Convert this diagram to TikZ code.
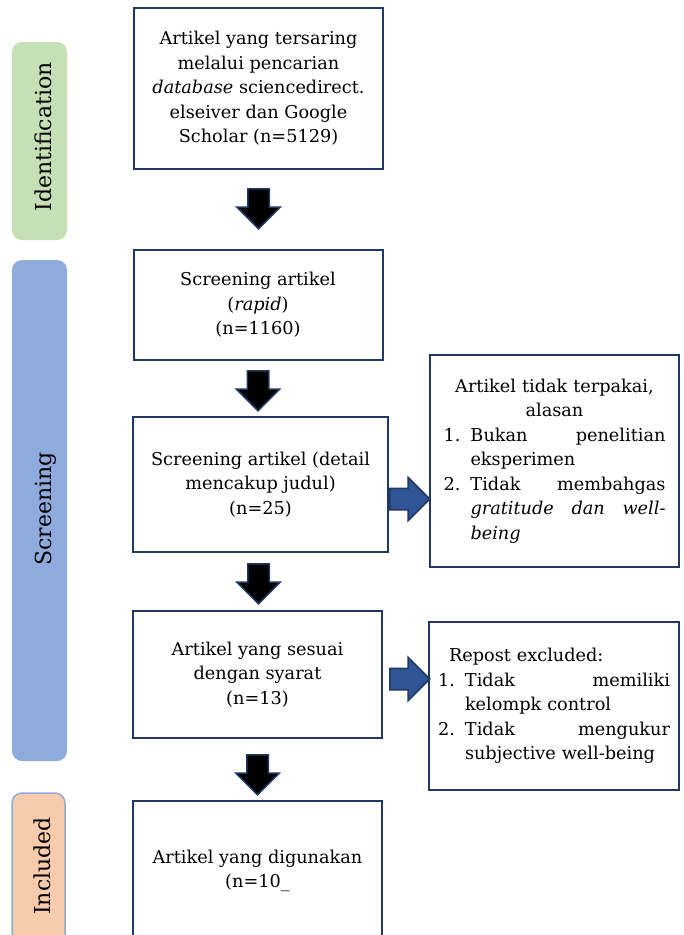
\documentclass[tikz,border=0pt]{standalone}
\usepackage{fontspec}
\setmainfont{DejaVu Serif}
\usetikzlibrary{shapes.arrows,calc}

\definecolor{boxline}{HTML}{1F3864}
\definecolor{arrowblue}{HTML}{2F5597}
\definecolor{phasegreen}{HTML}{C5E0B4}
\definecolor{phaseblue}{HTML}{8FAADC}
\definecolor{phaseorange}{HTML}{F8CBAD}

\newcommand{\ctrline}[1]{\makebox[\hsize]{#1}}
\newcommand{\nr}[1]{\makebox[27pt][l]{#1}}
\newcommand{\hang}{\hspace*{27pt}}

\begin{document}
\begin{tikzpicture}[
          x=1pt,
          y=-1pt,
          flowbox/.style={
            draw=boxline,
            line width=2pt,
            fill=white,
            minimum width=249pt,
            inner sep=0pt,
            align=center,
            font=\fontsize{17.7pt}{24.5pt}\selectfont,
          },
          sidebox/.style={
            flowbox,
            align=left,
          },
          phasebar/.style={
            rounded corners=10pt,
            minimum width=55pt,
            inner sep=0pt,
          },
          phasetext/.style={
            rotate=90,
            anchor=base,
            inner sep=0pt,
            font=\fontsize{22pt}{26pt}\selectfont,
          },
          downarrow/.style={
            single arrow,
            shape border rotate=270,
            anchor=tail,
            draw=boxline,
            line width=1.5pt,
            fill=black,
            minimum height=40pt,
            inner sep=10pt,
            single arrow head extend=11pt,
          },
          rightarrow/.style={
            downarrow,
            shape border rotate=0,
            fill=arrowblue,
          },
        ]
        \useasboundingbox (0,0) rectangle (684,935) ;
        \node[phasebar, fill=phasegreen, minimum height=198pt] at (39.5,141) (ident) {} ;
        \node[phasebar, fill=phaseblue, minimum height=501pt] at (39.5,510.5) (screen) {} ;
        \node[phasebar, fill=phaseorange, draw=phaseblue, line width=1.5pt, minimum width=53pt, minimum height=170pt] at (38.5,878) (incl) {} ;
        \node[phasetext] at ([xshift=11.5pt,yshift=4pt]ident.center) (identlbl) {Identification} ;
        \node[phasetext] at ([xshift=11.5pt,yshift=1.5pt]screen.center) (screenlbl) {Screening} ;
        \node[phasetext] at ([xshift=11.5pt,yshift=12pt]incl.center) (incllbl) {Included} ;
        \node[flowbox, minimum height=161pt] at (258.5,88.5) (found) {Artikel yang tersaring\\ melalui pencarian\\ \textit{database} sciencedirect.\\ elseiver dan Google\\ Scholar (n=5129)} ;
        \node[flowbox, minimum height=110pt] at (258,305) (rapid) {Screening artikel\\ (\textit{rapid})\\ (n=1160)} ;
        \node[flowbox, minimum width=255pt, minimum height=135pt] at (260.5,484.5) (detail) {Screening artikel (detail\\ mencakup judul)\\ (n=25)} ;
        \node[flowbox, minimum height=127pt] at (257.5,674.5) (eligible) {Artikel yang sesuai\\ dengan syarat\\ (n=13)} ;
        \node[flowbox, minimum height=140pt] at (257.5,871) (used) {Artikel yang digunakan\\ (n=10\_} ;
        \node[sidebox, text width=222pt, minimum height=212pt] at (554.5,461) (skipped) {\ctrline{Artikel tidak terpakai,}\\ \ctrline{alasan}\\ \nr{1.}Bukan\hfill penelitian\\ \hang eksperimen\\ \nr{2.}Tidak\hfill membahgas\\ \hang\textit{gratitude\hfill dan\hfill well-}\\ \hang\textit{being}} ;
        \node[sidebox, minimum width=250pt, text width=232pt, minimum height=168pt] at (554,706) (excluded) {\hspace*{11pt}Repost excluded:\\ \nr{1.}Tidak\hfill memiliki\\ \hang kelompk control\\ \nr{2.}Tidak\hfill mengukur\\ \hang subjective well-being} ;
        \node[downarrow] at ($(found.south)+(0,18)$) (dn1) {} ;
        \node[downarrow] at ($(rapid.south)+(0,9)$) (dn2) {} ;
        \node[downarrow] at ($(detail.south)+(-2,10)$) (dn3) {} ;
        \node[downarrow] at ($(eligible.south)+(0,15)$) (dn4) {} ;
        \node[rightarrow] at ($(detail.east)+(0,14.5)$) (rt1) {} ;
        \node[rightarrow] at ($(eligible.east)+(6,4.5)$) (rt2) {} ;
        \end{tikzpicture}
\end{document}
